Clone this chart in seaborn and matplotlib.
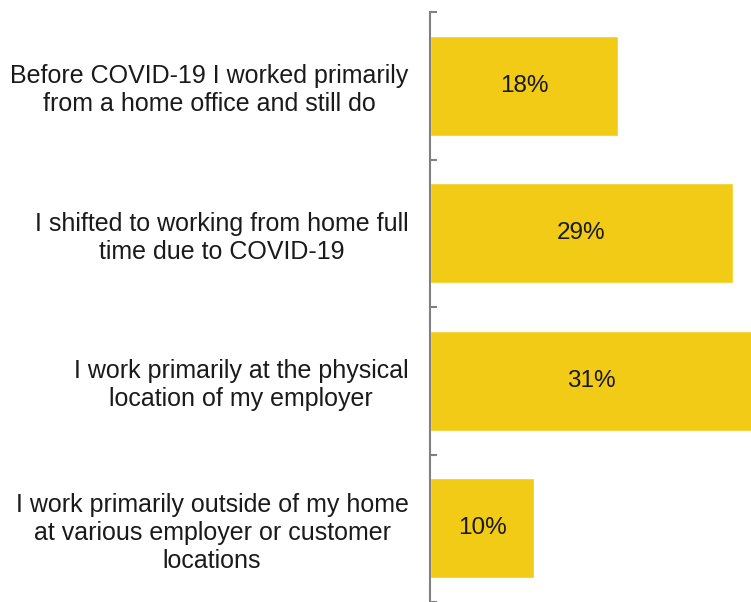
import matplotlib
matplotlib.use("Agg")
import matplotlib.pyplot as plt
from matplotlib.ticker import FixedLocator
import seaborn as sns
import pandas as pd

categories = [
    "Before COVID-19 I worked primarily\nfrom a home office and still do",
    "I shifted to working from home full\ntime due to COVID-19",
    "I work primarily at the physical\nlocation of my employer",
    "I work primarily outside of my home\nat various employer or customer\nlocations",
]
values = [18, 29, 31, 10]
value_labels = ["18%", "29%", "31%", "10%"]

df = pd.DataFrame({"category": categories, "value": values})

sns.set_style("white")
plt.rcParams["font.family"] = ["Liberation Sans", "DejaVu Sans"]

fig = plt.figure(figsize=(7.51, 6.02), dpi=100)
ax = fig.add_axes([430 / 751, 0, 321 / 751, 590 / 602])

sns.barplot(data=df, y="category", x="value", orient="h", color="#F2CB17",
            saturation=1, width=0.68, ax=ax)

ax.set_xlim(0, 30.75)
ax.set_ylim(3.5, -0.5)
ax.set_xlabel("")
ax.set_ylabel("")
ax.set_xticks([])

for side in ["top", "right", "bottom"]:
    ax.spines[side].set_visible(False)
ax.spines["left"].set_color("#808080")
ax.spines["left"].set_linewidth(1.5)

ax.tick_params(axis="y", which="major", length=0, pad=15.5, labelsize=18,
               labelcolor="#1a1a1a")
ax.yaxis.set_minor_locator(FixedLocator([-0.5, 0.5, 1.5, 2.5, 3.5]))
ax.tick_params(axis="y", which="minor", direction="in", length=5, width=1.5,
               color="#808080", left=True)
for lbl in ax.get_yticklabels():
    lbl.set_multialignment("center")
    lbl.set_linespacing(1.22)

for i, (v, t) in enumerate(zip(values, value_labels)):
    ax.text(v / 2, i, t, ha="center", va="center", fontsize=17.5, color="#1a1a1a")

fig.savefig("out.png", dpi=100)
